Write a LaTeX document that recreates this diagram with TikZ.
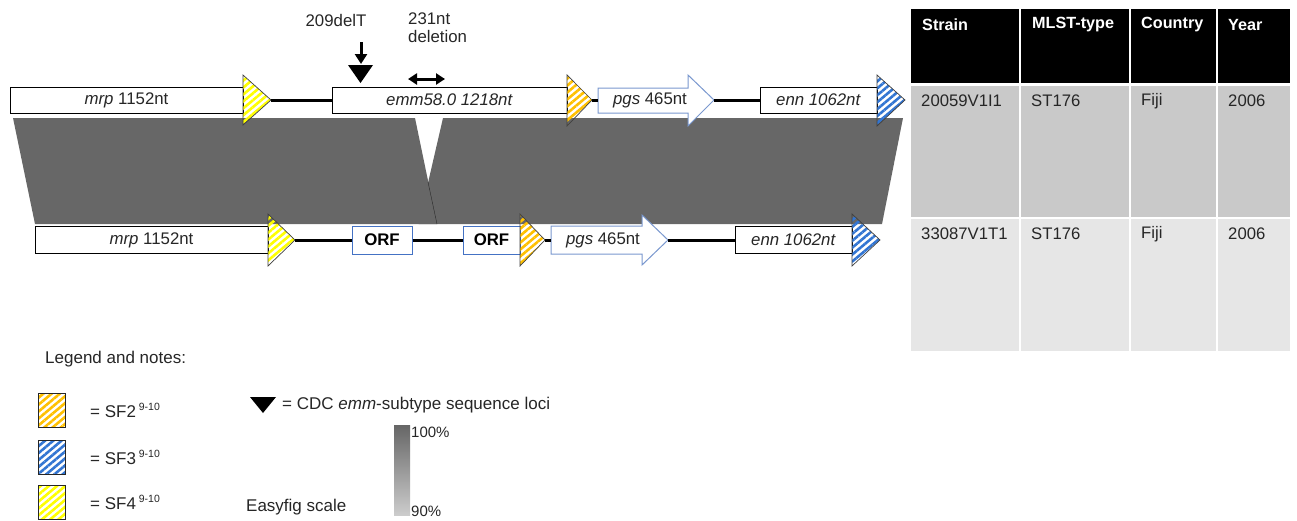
\documentclass[tikz,border=0pt]{standalone}
\usepackage{fontspec}
\setmainfont{Liberation Sans}
\usetikzlibrary{patterns.meta,arrows.meta}

\definecolor{simgray}{HTML}{676767}
\definecolor{sftwo}{HTML}{FFC000}
\definecolor{sfthree}{HTML}{3275D2}
\definecolor{sffour}{HTML}{FFFF00}
\definecolor{orfblue}{HTML}{4472C4}
\definecolor{pgsblue}{HTML}{7A98CF}
\definecolor{rowdark}{HTML}{C9C9C9}
\definecolor{rowlight}{HTML}{E6E6E6}
\definecolor{txt}{HTML}{262626}

\tikzset{
  lbl/.style={font=\fontsize{16.8}{18}\selectfont, text=txt},
  genebox/.style={draw=black, line width=1pt, fill=white, inner sep=0pt,
                  minimum height=26pt, lbl},
  orfbox/.style={draw=orfblue, line width=1pt, fill=white, inner sep=0pt,
                 minimum height=28pt, font=\fontsize{16.8}{18}\selectfont\bfseries},
  pgsarrow/.style={draw=pgsblue, line width=1pt, fill=white},
  spacer/.style={line width=3pt, black},
  sfhatch/.style={draw=black!75, line width=0.7pt,
                  pattern={Lines[angle=40,distance=5.3pt,line width=2.6pt]},
                  pattern color=#1},
  simblock/.style={fill=simgray},
  hdrcell/.style={fill=black, draw=white, line width=1.5pt},
  darkcell/.style={fill=rowdark, draw=white, line width=1.5pt},
  lightcell/.style={fill=rowlight, draw=white, line width=1.5pt},
  hdrtext/.style={anchor=west, inner sep=0pt, text=white,
                  font=\fontsize{16.2}{18}\selectfont\bfseries},
  celltext/.style={anchor=west, inner sep=0pt, text=txt,
                   font=\fontsize{16.7}{18}\selectfont},
  lgd/.style={anchor=west, inner sep=0pt, text=txt,
              font=\fontsize{17}{19}\selectfont},
  pct/.style={anchor=west, inner sep=0pt, text=txt,
              font=\fontsize{15}{17}\selectfont},
  thickarrow/.style={line width=3pt, -{Triangle[width=12pt,length=10pt]}},
  botharrow/.style={line width=3pt,
    {Triangle[width=11pt,length=9pt]}-{Triangle[width=11pt,length=9pt]}},
}
\newcommand{\refsup}{\,\raisebox{0.42em}{\fontsize{10.5}{11}\selectfont 9-10}}

\begin{document}
\begin{tikzpicture}[x=1pt,y=-1pt]
\useasboundingbox (0,0) rectangle (1297,520);

% Easyfig similarity blocks between the two loci
\path[simblock] (13,118) -- (415,118) -- (437,224) -- (35,224) -- cycle;
\path[simblock] (443,118) -- (903,118) -- (882,224) -- (418.5,224) -- cycle;
\draw[black!60!simgray, line width=0.4pt] (428,182) -- (437,224);

% ---------- upper locus (20059V1I1) ----------
\node[genebox, minimum width=233pt] (mrpA) at (126.5,100) {\textit{mrp} 1152nt};
\node[genebox, minimum width=235pt] (emmA) at (449.5,100) {\textit{emm58.0 1218nt}};
\node[genebox, minimum width=117pt] (ennA) at (818.5,100) {\textit{enn 1062nt}};

\path[sfhatch=sffour]  (243,75) -- (271,100) -- (243,125) -- cycle;
\path[sfhatch=sftwo]   (567,75) -- (592,100) -- (567,126) -- cycle;
\path[sfhatch=sfthree] (877,75) -- (905,100) -- (877,126) -- cycle;
\coordinate (tipYA) at (271,100);
\coordinate (tipOA) at (592,100);

\path[pgsarrow] (598,88) -- (688,88) -- (688,75) -- (714,100) -- (688,126)
  -- (688,113) -- (598,113) -- cycle;
\node[lbl] (pgsA) at (650,100.5) {\textit{pgs} 465nt};
\coordinate (pgsTailA) at (598,100);
\coordinate (pgsTipA) at (714,100);

\draw[spacer] (tipYA) -- (emmA.west);
\draw[spacer] (tipOA) -- (pgsTailA);
\draw[spacer] (pgsTipA) -- (ennA.west);

% mutation annotations
\node[lbl] (del209) at (336,20) {209delT};
\coordinate (arrFrom) at (361,42);
\coordinate (locusTop) at (361,64);
\draw[thickarrow] (arrFrom) -- (locusTop);
\path[fill=black] (348,65) -- (373,65) -- (360.5,83) -- cycle;

\node[lbl, align=left, anchor=north west, inner sep=0pt] (del231) at (408,13)
  {231nt\\deletion};
\coordinate (delL) at (408,79);
\coordinate (delR) at (445,79);
\draw[botharrow] (delL) -- (delR);

% ---------- lower locus (33087V1T1) ----------
\node[genebox, minimum width=233pt, minimum height=27pt] (mrpB) at (151.5,240) {\textit{mrp} 1152nt};
\node[orfbox, minimum width=60pt] (orfB1) at (382,240) {ORF};
\node[orfbox, minimum width=57pt] (orfB2) at (491.5,240) {ORF};
\node[genebox, minimum width=117pt, minimum height=27pt] (ennB) at (793.5,240) {\textit{enn 1062nt}};

\path[sfhatch=sffour]  (268,214) -- (295,240) -- (268,266) -- cycle;
\path[sfhatch=sftwo]   (520,214) -- (545,240) -- (520,266) -- cycle;
\path[sfhatch=sfthree] (852,214) -- (880,240) -- (852,266) -- cycle;
\coordinate (tipYB) at (295,240);
\coordinate (tipOB) at (545,240);

\path[pgsarrow] (551,226) -- (642,226) -- (642,215) -- (668,240) -- (642,265)
  -- (642,254) -- (551,254) -- cycle;
\node[lbl] (pgsB) at (603,240) {\textit{pgs} 465nt};
\coordinate (pgsTailB) at (551,240);
\coordinate (pgsTipB) at (668,240);

\draw[spacer] (tipYB) -- (orfB1.west);
\draw[spacer] (orfB1.east) -- (orfB2.west);
\draw[spacer] (tipOB) -- (pgsTailB);
\draw[spacer] (pgsTipB) -- (ennB.west);

% ---------- strain table ----------
\path[hdrcell] (910,8) rectangle (1020,84);
\path[hdrcell] (1020,8) rectangle (1130,84);
\path[hdrcell] (1130,8) rectangle (1217,84);
\path[hdrcell] (1217,8) rectangle (1291,84);
\path[darkcell] (910,85) rectangle (1020,218);
\path[darkcell] (1020,85) rectangle (1130,218);
\path[darkcell] (1130,85) rectangle (1217,218);
\path[darkcell] (1217,85) rectangle (1291,218);
\path[lightcell] (910,218) rectangle (1020,352);
\path[lightcell] (1020,218) rectangle (1130,352);
\path[lightcell] (1130,218) rectangle (1217,352);
\path[lightcell] (1217,218) rectangle (1291,352);

\node[hdrtext] (hStrain)  at (922,25)  {Strain};
\node[hdrtext] (hMLST)    at (1032,25) {MLST-type};
\node[hdrtext] (hCountry) at (1141,25) {Country};
\node[hdrtext] (hYear)    at (1228,25) {Year};

\node[celltext] (s1) at (921,101) {20059V1I1};
\node[celltext] (m1) at (1031,101) {ST176};
\node[celltext] (c1) at (1141,101) {Fiji};
\node[celltext] (y1) at (1228,101) {2006};
\node[celltext] (s2) at (921,234) {33087V1T1};
\node[celltext] (m2) at (1031,234) {ST176};
\node[celltext] (c2) at (1141,234) {Fiji};
\node[celltext] (y2) at (1228,234) {2006};

% ---------- legend ----------
\node[lgd] (legTitle) at (45,359) {Legend and notes:};

\path[sfhatch=sftwo, draw=black!85, line width=1pt]   (38,393) rectangle (65,427);
\path[sfhatch=sfthree, draw=black!85, line width=1pt] (38,440) rectangle (65,474);
\path[sfhatch=sffour, draw=black!85, line width=1pt]  (38,485) rectangle (65,519);
\node[lgd] (lgSF2) at (90,410) {= SF2\refsup};
\node[lgd] (lgSF3) at (90,457) {= SF3\refsup};
\node[lgd] (lgSF4) at (90,502) {= SF4\refsup};

\path[fill=black] (250,397) -- (276,397) -- (263,413) -- cycle;
\node[lgd] (lgLoci) at (282,405) {= CDC \textit{emm}-subtype sequence loci};

\shade[top color=black!60, bottom color=black!20] (394,425) rectangle (410,515);
\node[pct] (pHigh) at (411,432) {100\%};
\node[pct] (pLow)  at (411,511) {90\%};
\node[lgd] (lgScale) at (246,507) {Easyfig scale};
\end{tikzpicture}
\end{document}
